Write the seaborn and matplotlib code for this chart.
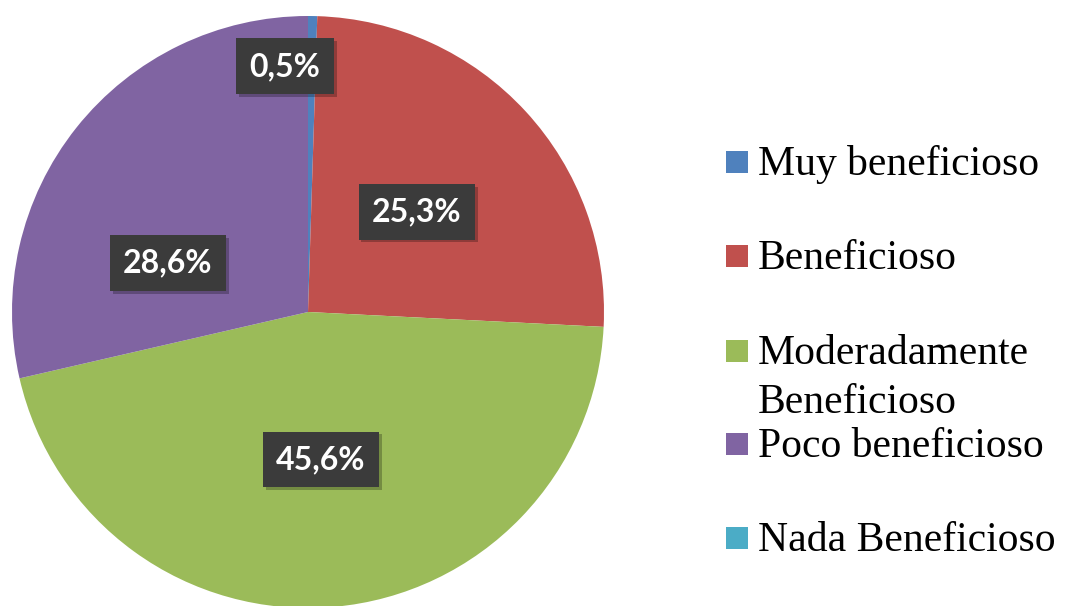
import numpy as np
import matplotlib
matplotlib.use('Agg')
import matplotlib.pyplot as plt
import matplotlib.patheffects as pe
from matplotlib.patches import Rectangle
import seaborn as sns

# data
categories = ['Muy beneficioso', 'Beneficioso', 'Moderadamente\nBeneficioso',
              'Poco beneficioso', 'Nada Beneficioso']
values = [0.5, 25.3, 45.6, 28.6, 0.0]
colors = ['#4F81BD', '#C0504D', '#9BBB59', '#8064A2', '#4BACC6']

W, H = 1078, 606

sns.set_theme(style='white')
fig = plt.figure(figsize=(W / 100, H / 100), dpi=100)
fig.patch.set_facecolor('white')

# pie centre (308, 312) px, radius 296 px
cx, cy, R = 308, 312, 296
ax = fig.add_axes([(cx - R) / W, (H - cy - R) / H, 2 * R / W, 2 * R / H])
ax.axis('off')

wedges, _ = ax.pie(values, colors=colors, startangle=90, counterclock=False,
                   radius=1.0, wedgeprops=dict(linewidth=0))
# pie() pads the limits, put them back so the circle fills the axes
ax.set_xlim(-1, 1)
ax.set_ylim(-1, 1)

# percentage labels: dark boxes with white bold text
start = 90.0
for i, (w, v) in enumerate(zip(wedges, values)):
    ang = start - v * 3.6 / 2
    start -= v * 3.6
    if v <= 0:
        continue
    r = 0.5
    x, y = r * np.cos(np.radians(ang)), r * np.sin(np.radians(ang))
    if i == 0:
        x, y = -0.078, 0.83   # Excel nudges the tiny slice label
    if i == 3:
        x, y = -0.473, 0.165
    t = ax.text(x, y, f'{v:.1f}'.replace('.', ',') + '%', ha='center', va='center',
                color='white', fontsize=23, fontweight='bold', family='Lato',
                bbox=dict(boxstyle='square,pad=0.42', facecolor='#3B3B3B',
                          edgecolor='none'))
    t.get_bbox_patch().set_path_effects(
        [pe.withSimplePatchShadow(offset=(2, -2), shadow_rgbFace='black', alpha=0.25)])

# legend drawn by hand to keep Excel's spacing
sq_centres = [162, 256, 351, 444, 538]
sq = 22
for lab, col, yc in zip(categories, colors, sq_centres):
    fig.patches.append(Rectangle(((726) / W, (H - yc - sq / 2) / H), sq / W, sq / H,
                                 transform=fig.transFigure, facecolor=col,
                                 edgecolor='none'))
    for k, line in enumerate(lab.split('\n')):
        base = yc + 13 + k * 49
        fig.text(758 / W, 1 - base / H, line, ha='left', va='baseline',
                 fontsize=30, family='Liberation Serif', color='black')

fig.savefig('out.png', dpi=100)
